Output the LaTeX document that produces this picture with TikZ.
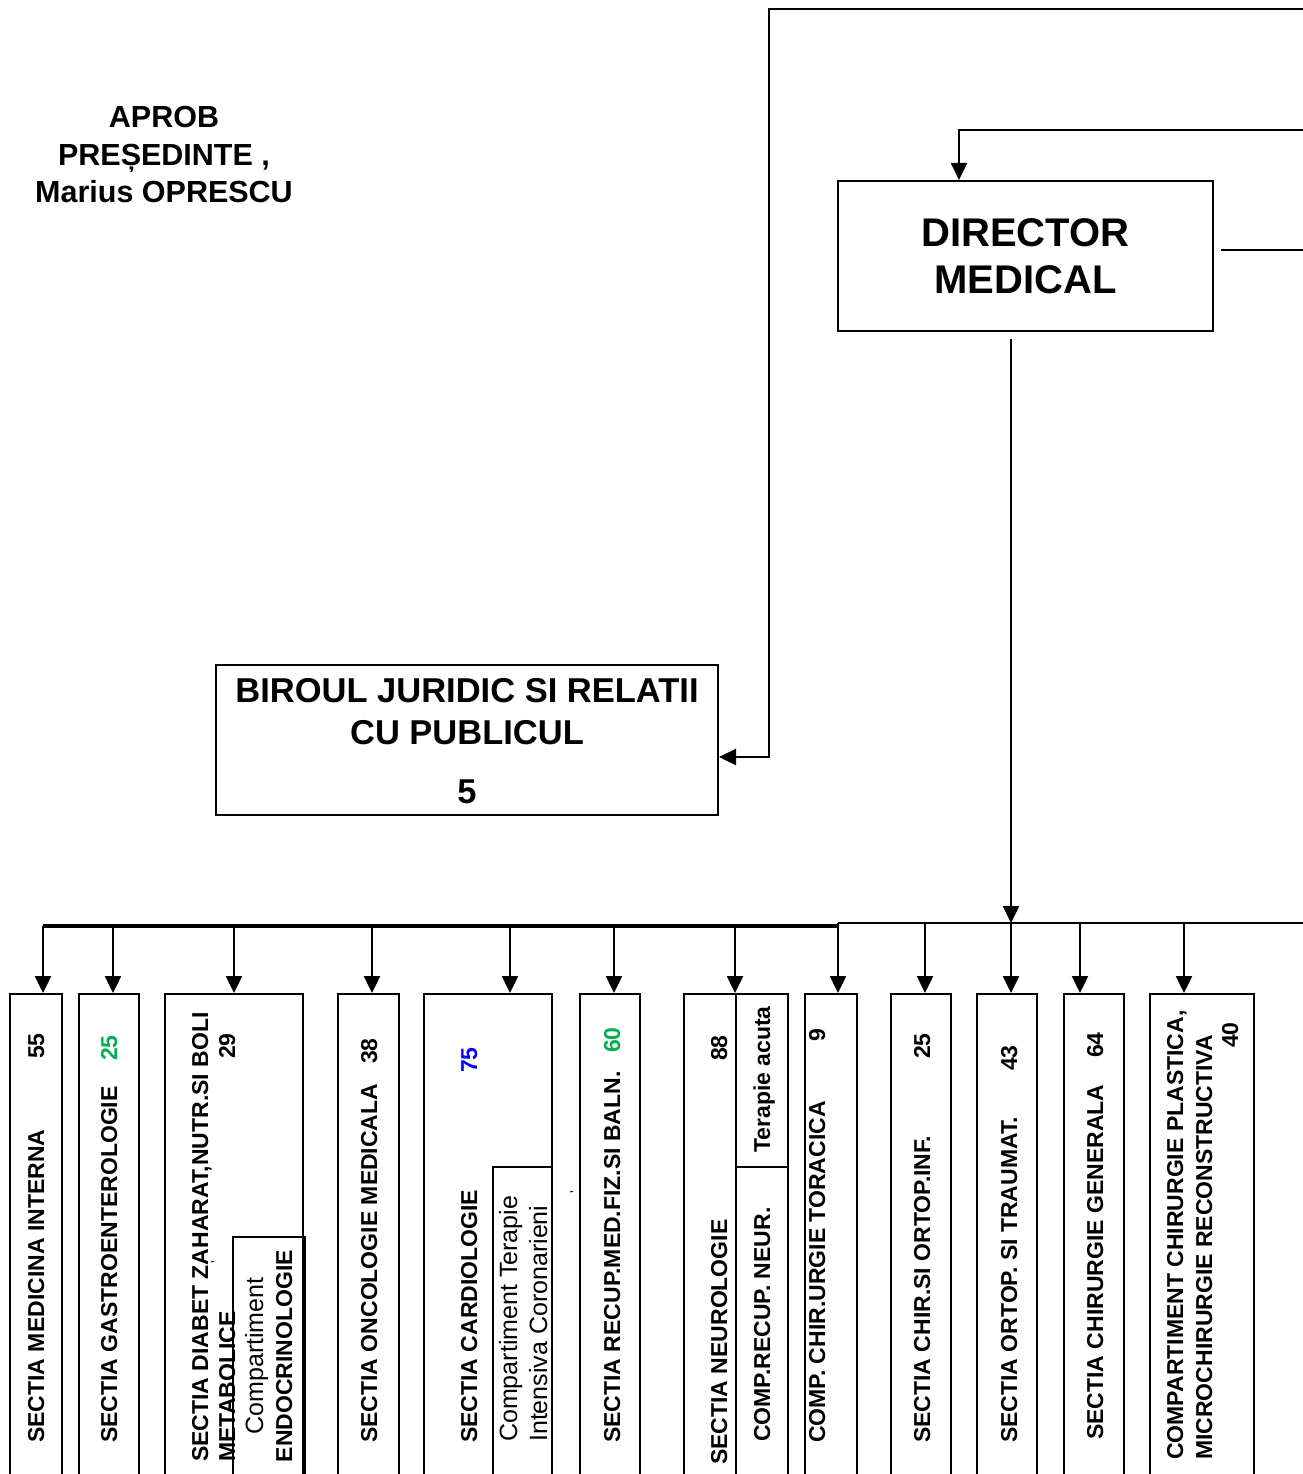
\documentclass[tikz,border=0pt]{standalone}
\usepackage{fontspec}
\setmainfont{Liberation Sans}
\usetikzlibrary{arrows.meta}
\definecolor{grn}{RGB}{0,176,80}
\definecolor{blu}{RGB}{0,0,255}
\begin{document}
\begin{tikzpicture}[x=1pt,y=-1pt,
  ln/.style={line width=2pt},
  arr/.style={line width=2.4pt,-{Triangle[length=17pt,width=16pt]}},
  box/.style={draw,line width=2pt,rectangle,inner sep=0pt,anchor=north west},
  vt/.style={rotate=90,anchor=base west,inner sep=0pt,font=\fontsize{23}{27}\selectfont\bfseries},
  vr/.style={rotate=90,anchor=base west,inner sep=0pt,font=\fontsize{25}{29}\selectfont},
  num/.style={rotate=90,anchor=base east,inner sep=0pt,font=\fontsize{23}{27}\selectfont\bfseries},
  stray/.style={rotate=90,inner sep=0pt,font=\fontsize{10}{12}\selectfont\bfseries}
]
\useasboundingbox (0,0) rectangle (1302,1474);

% header text
\node[align=center,inner sep=0pt,font=\fontsize{30.5}{37.5}\selectfont\bfseries] (aprob) at (164,155)
  {APROB\\PREȘEDINTE ,\\Marius OPRESCU};

% director
\node[draw,line width=2pt,minimum width=375,minimum height=150,inner sep=0pt] (director) at (1025.5,256) {};
\node[align=center,inner sep=0pt,font=\fontsize{40}{47}\selectfont\bfseries] (dirtxt) at (1025.5,256.5) {DIRECTOR\\MEDICAL};

% biroul
\node[draw,line width=2pt,minimum width=502,minimum height=150,inner sep=0pt] (biroul) at (467,740) {};
\node[align=center,inner sep=0pt,font=\fontsize{34.5}{42.5}\selectfont\bfseries] (birtxt) at (467,741)
  {BIROUL JURIDIC SI RELATII\\CU PUBLICUL\\[16pt]5};

% free ends at right edge
\coordinate (tr) at (1310,9);
\coordinate (jv) at (769,757);
\coordinate (dr) at (1310,130);
\coordinate (dre) at (1310,250);
\coordinate (bre) at (1310,923);

\draw[arr] (tr) -| (jv) -- (jv -| biroul.east);
\draw[arr] (dr) -| ([xshift=-66.5pt]director.north);
\draw[ln] ([xshift=7pt,yshift=6pt]director.east) -- (dre);

% bottom boxes
\node[box,minimum width=52,minimum height=510] (b1) at (9,993) {};
\node[box,minimum width=60,minimum height=510] (b2) at (78,993) {};
\node[box,minimum width=138,minimum height=510] (b3) at (164,993) {};
\node[box,minimum width=61,minimum height=510] (b4) at (337,993) {};
\node[box,minimum width=128,minimum height=510] (b5) at (423,993) {};
\node[box,minimum width=60,minimum height=510] (b6) at (579,993) {};
\node[box,minimum width=104,minimum height=510] (b7) at (683,993) {};
\node[box,minimum width=52,minimum height=510] (b8) at (804,993) {};
\node[box,minimum width=60,minimum height=510] (b9) at (890,993) {};
\node[box,minimum width=60,minimum height=510] (b10) at (976,993) {};
\node[box,minimum width=60,minimum height=510] (b11) at (1063,993) {};
\node[box,minimum width=104,minimum height=510] (b12) at (1149,993) {};

% bus
\coordinate (t1) at (43,926);
\coordinate (t2) at (113,926);
\coordinate (t3) at (234,926);
\coordinate (t4) at (372,926);
\coordinate (t5) at (510,926);
\coordinate (t6) at (614,926);
\coordinate (t7) at (735,926);
\coordinate (t8) at (838,923);
\coordinate (t9) at (925,923);
\coordinate (t10) at (1011,923);
\coordinate (t11) at (1080,923);
\coordinate (t12) at (1184,923);
\draw[line width=3.2pt] (t1) -- (t1 -| t8);
\draw[ln] (t8) -- (bre);
\draw[arr] ([xshift=-14.5pt,yshift=-7pt]director.south) -- (t10);
\foreach \i in {1,...,12} \draw[arr] (t\i) -- (t\i |- b\i.north);

% labels
\node[vt] (l1) at (44,1443) {SECTIA MEDICINA INTERNA};
\node[num] (n1) at (44,1033) {55};
\node[vt] (l2) at (117,1443) {SECTIA GASTROENTEROLOGIE};
\node[num,text=grn] (n2) at (117,1035) {25};
\node[vt] (l3a) at (208,1462) {SECTIA DIABET ZAHARAT,NUTR.SI BOLI};
\node[vt] (l3b) at (235,1462) {METABOLICE};
\node[num] (n3) at (235,1033) {29};
\node[stray] (c1) at (213,1262) {,};
\node[box,minimum width=72,minimum height=260] (s3) at (232,1236) {};
\node[rotate=90,anchor=base,inner sep=0pt,font=\fontsize{25}{29}\selectfont] (s3a) at (263,1356) {Compartiment};
\node[rotate=90,anchor=base,inner sep=0pt,font=\fontsize{23}{27}\selectfont\bfseries] (s3b) at (292,1356) {ENDOCRINOLOGIE};
\node[vt] (l4) at (377,1443) {SECTIA ONCOLOGIE MEDICALA};
\node[num] (n4) at (377,1038) {38};
\node[vt] (l5) at (477,1443) {SECTIA CARDIOLOGIE};
\node[num,text=blu] (n5) at (477,1047) {75};
\node[box,minimum width=59,minimum height=330] (s5) at (492,1166) {};
\node[vr] (s5a) at (517,1442) {Compartiment Terapie};
\node[vr] (s5b) at (547,1442) {Intensiva Coronarieni};
\node[stray] (c2) at (572,1192) {,};
\node[vt] (l6) at (620,1443) {SECTIA RECUP.MED.FIZ.SI BALN.};
\node[num,text=grn] (n6) at (620,1027) {60};
\node[box,minimum width=52,minimum height=173] (s7a) at (735,993) {};
\node[box,minimum width=52,minimum height=330] (s7b) at (735,1166) {};
\node[vt] (l7) at (727,1465) {SECTIA NEUROLOGIE};
\node[num] (n7) at (727,1035) {88};
\node[vt] (l7b) at (770,1153) {Terapie acuta};
\node[vt] (l7c) at (770,1442) {COMP.RECUP. NEUR.};
\node[vt] (l8) at (825,1443) {COMP. CHIR.URGIE TORACICA};
\node[num] (n8) at (825,1028) {9};
\node[vt] (l9) at (930,1443) {SECTIA CHIR.SI ORTOP.INF.};
\node[num] (n9) at (930,1033) {25};
\node[vt] (l10) at (1017,1443) {SECTIA ORTOP. SI TRAUMAT.};
\node[num] (n10) at (1017,1045) {43};
\node[vt] (l11) at (1103,1440) {SECTIA CHIRURGIE GENERALA};
\node[num] (n11) at (1103,1032) {64};
\node[vt] (l12a) at (1183,1460) {COMPARTIMENT CHIRURGIE PLASTICA,};
\node[vt] (l12b) at (1212,1460) {MICROCHIRURGIE RECONSTRUCTIVA};
\node[num] (n12) at (1238,1022) {40};
\end{tikzpicture}
\end{document}
